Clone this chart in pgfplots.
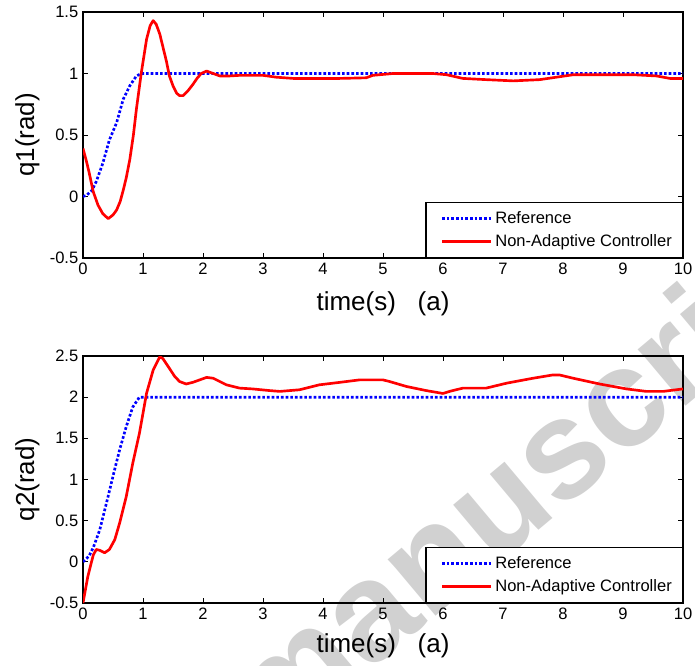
\documentclass[border=0pt]{standalone}
\usepackage{fontspec}
\setmainfont{Liberation Sans}
\usepackage{pgfplots}
\pgfplotsset{compat=1.18}

\pgfplotsset{
  qplot/.style={
    scale only axis,
    width=450pt,
    xmin=0, xmax=10,
    xtick={0,1,...,10},
    xticklabels={0,1,2,3,4,5,6,7,8,9,10},
    tick align=inside,
    major tick length=3.5pt,
    axis line style={line width=0.8pt},
    every tick/.style={black, line width=0.6pt},
    tick label style={font=\fontsize{12.4}{14}\selectfont},
    label style={font=\fontsize{19.5}{22}\selectfont},
    xlabel={time(s)\ \ \ (a)},
    legend cell align=left,
    legend style={at={(1,0)}, anchor=south east, draw=black, line width=0.8pt,
      font=\fontsize{12.4}{14}\selectfont, inner xsep=6pt, inner ysep=4.5pt,
      row sep=3pt},
    legend image code/.code={\path (0pt,0pt); \draw[#1] (5pt,0pt) -- (42pt,0pt);},
  },
  refline/.style={color=blue, line width=2pt, dash pattern=on 2pt off 1.5pt},
  ctrline/.style={color=red, line width=2pt, line join=round},
}

\begin{document}
\begin{tikzpicture}
\useasboundingbox (0,0) rectangle (521.25pt,-499.5pt);

% watermark of the manuscript
\node[rotate=40, anchor=base west, text=black!18, inner sep=0pt,
  font=\fontsize{105}{110}\bfseries\selectfont] at (205pt,-564.5pt) {manuscript};

\begin{axis}[qplot,
  at={(62.25pt,-9pt)}, anchor=north west,
  height=184.5pt,
  ymin=-0.5, ymax=1.5,
  ytick={-0.5,0,0.5,1,1.5},
  yticklabels={-0.5,0,0.5,1,1.5},
  ylabel={q1(rad)},
  xlabel style={at={(axis description cs:0.5,-0.187)}, anchor=center},
  ylabel style={at={(axis description cs:-0.0925,0.5)}, anchor=center, rotate=0},
]
\addplot[refline] coordinates {
(0,0)(0.06,0.01)(0.15,0.05)(0.22,0.12)(0.33,0.27)(0.44,0.46)(0.56,0.6)(0.67,0.79)
(0.78,0.90)(0.89,0.98)(0.97,1.0)(10,1.0)
};
\addlegendentry{Reference}
\addplot[ctrline] coordinates {
(0,0.39)(0.05,0.3)(0.1,0.2)(0.17,0.04)(0.25,-0.07)(0.33,-0.14)(0.42,-0.18)(0.5,-0.15)
(0.56,-0.11)(0.62,-0.04)(0.67,0.05)(0.72,0.15)(0.78,0.3)(0.84,0.5)(0.89,0.71)(0.97,1.0)
(1.06,1.28)(1.12,1.39)(1.17,1.43)(1.22,1.40)(1.28,1.32)(1.33,1.22)(1.39,1.10)(1.44,0.98)
(1.5,0.9)(1.56,0.84)(1.61,0.82)(1.67,0.82)(1.75,0.86)(1.83,0.91)(1.9,0.96)(1.97,1.0)
(2.06,1.02)(2.17,1.0)(2.28,0.98)(2.44,0.98)(2.61,0.985)(3.0,0.985)(3.22,0.97)(3.5,0.96)
(4.28,0.96)(4.72,0.965)(4.83,0.985)(5.17,1.0)(5.83,1.0)(6.06,0.99)(6.33,0.96)(6.72,0.95)
(7.17,0.94)(7.61,0.95)(7.89,0.97)(8.17,0.99)(9.17,0.99)(9.56,0.98)(9.78,0.96)(10,0.96)
};
\addlegendentry{Non-Adaptive Controller}
\end{axis}

\begin{axis}[qplot,
  at={(62.25pt,-267pt)}, anchor=north west,
  height=185.25pt,
  ymin=-0.5, ymax=2.5,
  ytick={-0.5,0,0.5,1,1.5,2,2.5},
  yticklabels={-0.5,0,0.5,1,1.5,2,2.5},
  ylabel={q2(rad)},
  xlabel style={at={(axis description cs:0.5,-0.174)}, anchor=center},
  ylabel style={at={(axis description cs:-0.0925,0.5)}, anchor=center, rotate=0},
]
\addplot[refline] coordinates {
(0,0)(0.03,0.02)(0.1,0.07)(0.17,0.17)(0.28,0.39)(0.39,0.71)(0.5,1.04)(0.61,1.36)
(0.72,1.64)(0.83,1.88)(0.94,2.0)(1.0,2.0)(10,2)
};
\addlegendentry{Reference}
\addplot[ctrline] coordinates {
(0,-0.5)(0.08,-0.18)(0.17,0.08)(0.22,0.15)(0.28,0.14)(0.36,0.11)(0.44,0.15)(0.53,0.27)
(0.61,0.47)(0.72,0.79)(0.83,1.2)(0.94,1.56)(1.06,2.05)(1.17,2.33)(1.28,2.49)(1.33,2.47)
(1.44,2.35)(1.53,2.25)(1.61,2.19)(1.72,2.16)(1.83,2.18)(2.06,2.24)(2.17,2.23)(2.39,2.15)
(2.61,2.11)(2.83,2.10)(3.11,2.08)(3.28,2.07)(3.61,2.09)(3.94,2.15)(4.28,2.18)(4.61,2.21)
(5.0,2.21)(5.11,2.19)(5.39,2.13)(5.72,2.08)(6.0,2.045)(6.11,2.07)(6.33,2.11)(6.72,2.11)
(7.06,2.17)(7.5,2.23)(7.83,2.27)(7.94,2.27)(8.17,2.23)(8.61,2.16)(9.06,2.10)(9.39,2.07)
(9.67,2.07)(9.83,2.085)(10,2.10)
};
\addlegendentry{Non-Adaptive Controller}
\end{axis}
\end{tikzpicture}
\end{document}
